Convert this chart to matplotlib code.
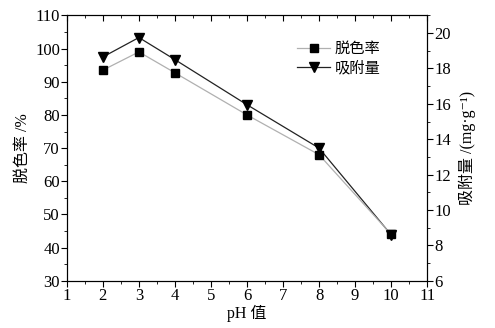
import matplotlib
matplotlib.use("Agg")
import matplotlib.pyplot as plt
from matplotlib.ticker import MultipleLocator

plt.rcParams['font.family'] = ['Liberation Serif', 'Noto Sans CJK SC', 'DejaVu Serif']

ph = [2, 3, 4, 6, 8, 10]
decolor = [93.5, 99.0, 92.7, 80.0, 68.0, 44.0]      # 脱色率 /%
adsorb = [18.65, 19.75, 18.5, 15.95, 13.5, 8.6]      # 吸附量 /(mg·g-1)

fig = plt.figure(figsize=(4.95, 3.28), dpi=100)
ax = fig.add_axes([0.135, 0.144, 0.728, 0.809])
ax2 = ax.twinx()
# squares drawn over the triangles
ax.set_zorder(ax2.get_zorder() + 1)
ax.patch.set_visible(False)

l1, = ax.plot(ph, decolor, color='#b0b0b0', lw=0.9, marker='s', ms=6,
              mfc='black', mec='black', label='脱色率')
l2, = ax2.plot(ph, adsorb, color='#222222', lw=0.9, marker='v', ms=6.5,
               mfc='black', mec='black', label='吸附量')

ax.set_xlim(1, 11)
ax.set_ylim(30, 110)
ax2.set_ylim(6, 21)
ax.xaxis.set_major_locator(MultipleLocator(1))
ax.xaxis.set_minor_locator(MultipleLocator(0.5))
ax.yaxis.set_major_locator(MultipleLocator(10))
ax.yaxis.set_minor_locator(MultipleLocator(5))
ax2.yaxis.set_major_locator(MultipleLocator(2))
ax2.yaxis.set_minor_locator(MultipleLocator(1))

ax.tick_params(which='both', direction='out', top=True, labelsize=12, pad=1)
ax.tick_params(which='major', length=4)
ax.tick_params(which='minor', length=2)
ax2.tick_params(which='both', direction='out', labelsize=12, pad=1)
ax2.tick_params(which='major', length=4)
ax2.tick_params(which='minor', length=2)
# top ticks point inward
for t in ax.xaxis.get_major_ticks() + ax.xaxis.get_minor_ticks():
    t.tick2line.set_marker(3)

ax.set_xlabel('pH 值', fontsize=11.5, labelpad=1)
ax.set_ylabel('脱色率 /%', fontsize=11.5, labelpad=3)
ax2.set_ylabel('吸附量 /(mg·g⁻¹)', fontsize=11.5, labelpad=6)

for a in (ax, ax2):
    for s in a.spines.values():
        s.set_linewidth(0.8)

ax.legend([l1, l2], ['脱色率', '吸附量'], loc='upper left',
          bbox_to_anchor=(0.6, 0.95), frameon=False, fontsize=11,
          handlelength=2.2, handletextpad=0.3, labelspacing=0.3)

fig.savefig('out.png', dpi=100)
